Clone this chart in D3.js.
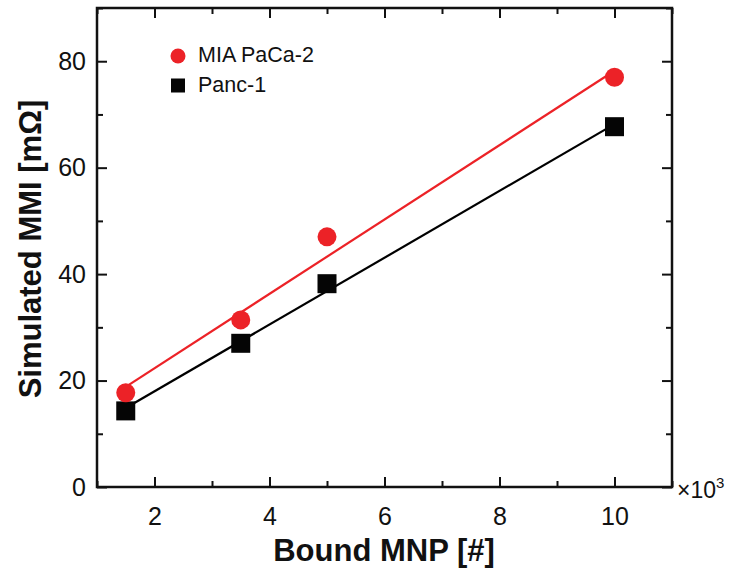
<!DOCTYPE html>
<html>
<head>
<meta charset="utf-8">
<script src="https://cdn.jsdelivr.net/npm/d3@7"></script>
<style>
  body { margin: 0; background: #fff; }
  svg { font-family: "Liberation Sans", Arial, sans-serif; }
</style>
</head>
<body>
<svg id="chart" width="731" height="571"></svg>
<script>
// bound MNP, in thousands
var boundMnp = [1.5, 3.5, 5, 10];
var miaPaca = [17.7, 31.4, 47.0, 77.0];
var panc1 = [14.3, 27.0, 38.2, 67.7];
var seriesNames = ["MIA PaCa-2", "Panc-1"];
var xTicks = [2, 4, 6, 8, 10];
var yTicks = [0, 20, 40, 60, 80];

var svg = d3.select("#chart");
var padding = {top: 8, right: 59, bottom: 84, left: 97};
var width = +svg.attr("width");
var height = +svg.attr("height");

var x = d3.scaleLinear().domain([1, 11]).range([padding.left, width - padding.right]);
var y = d3.scaleLinear().domain([0, 90]).range([height - padding.bottom, padding.top]);

var minorX = d3.range(1, 12, 2);
var minorY = d3.range(10, 91, 20);

function styleAxis(g){
    g.select(".domain").remove();
    g.selectAll("line").attr("stroke", "#111").attr("stroke-width", 2);
    g.selectAll("text").attr("fill", "#111").style("font-size", "25px");
}

// bottom
svg.append("g")
    .attr("transform", "translate(0," + y(0) + ")")
    .call(d3.axisBottom(x).tickValues(xTicks).tickSizeInner(-10).tickSizeOuter(0).tickPadding(20).tickFormat(d3.format("d")))
    .call(styleAxis);
svg.append("g")
    .attr("transform", "translate(0," + y(0) + ")")
    .call(d3.axisBottom(x).tickValues(minorX).tickSize(-6).tickFormat(""))
    .call(styleAxis);
// top
svg.append("g")
    .attr("transform", "translate(0," + y(90) + ")")
    .call(d3.axisTop(x).tickValues(xTicks).tickSize(-10).tickFormat(""))
    .call(styleAxis);
svg.append("g")
    .attr("transform", "translate(0," + y(90) + ")")
    .call(d3.axisTop(x).tickValues(minorX).tickSize(-6).tickFormat(""))
    .call(styleAxis);
// left
svg.append("g")
    .attr("transform", "translate(" + x(1) + ",0)")
    .call(d3.axisLeft(y).tickValues(yTicks).tickSizeInner(-10).tickSizeOuter(0).tickPadding(11).tickFormat(d3.format("d")))
    .call(styleAxis);
svg.append("g")
    .attr("transform", "translate(" + x(1) + ",0)")
    .call(d3.axisLeft(y).tickValues(minorY).tickSize(-6).tickFormat(""))
    .call(styleAxis);
// right
svg.append("g")
    .attr("transform", "translate(" + x(11) + ",0)")
    .call(d3.axisRight(y).tickValues(yTicks).tickSize(-10).tickFormat(""))
    .call(styleAxis);
svg.append("g")
    .attr("transform", "translate(" + x(11) + ",0)")
    .call(d3.axisRight(y).tickValues(minorY).tickSize(-6).tickFormat(""))
    .call(styleAxis);

// frame
svg.append("rect")
    .attr("x", x(1))
    .attr("y", y(90))
    .attr("width", x(11) - x(1))
    .attr("height", y(0) - y(90))
    .attr("fill", "none")
    .attr("stroke", "#111")
    .attr("stroke-width", 2.5);

// least-squares fit lines
function fit(xs, ys){
    var mx = d3.mean(xs), my = d3.mean(ys);
    var sxy = d3.sum(xs, (d, i) => (d - mx) * (ys[i] - my));
    var sxx = d3.sum(xs, d => (d - mx) * (d - mx));
    var b = sxy / sxx;
    var a = my - b * mx;
    var x0 = d3.min(xs), x1 = d3.max(xs);
    return [[x0, a + b * x0], [x1, a + b * x1]];
}

var line = d3.line().x(d => x(d[0])).y(d => y(d[1]));

svg.append("path")
    .attr("d", line(fit(boundMnp, panc1)))
    .attr("stroke", "#000")
    .attr("stroke-width", 2.2)
    .attr("fill", "none");
svg.append("path")
    .attr("d", line(fit(boundMnp, miaPaca)))
    .attr("stroke", "#ec2227")
    .attr("stroke-width", 2.2)
    .attr("fill", "none");

// markers
var sq = 19;
svg.selectAll(".panc")
    .data(boundMnp)
    .enter().append("rect")
        .attr("x", d => x(d) - sq / 2)
        .attr("y", (d, i) => y(panc1[i]) - sq / 2)
        .attr("width", sq)
        .attr("height", sq)
        .attr("fill", "#050505");
svg.selectAll(".mia")
    .data(boundMnp)
    .enter().append("circle")
        .attr("cx", d => x(d))
        .attr("cy", (d, i) => y(miaPaca[i]))
        .attr("r", 9.5)
        .attr("fill", "#ec2227");

// legend
var legend = svg.append("g").attr("transform", "translate(178,56)");
legend.append("circle").attr("cx", 0).attr("cy", 0).attr("r", 7.5).attr("fill", "#ec2227");
legend.append("rect").attr("x", -7).attr("y", 22.5).attr("width", 14).attr("height", 14).attr("fill", "#050505");
legend.selectAll("text")
    .data(seriesNames)
    .enter().append("text")
        .attr("x", 20)
        .attr("y", (d, i) => 6 + i * 30)
        .attr("fill", "#111")
        .style("font-size", "21.5px")
        .text(d => d);

// axis titles
svg.append("text")
    .attr("x", 384)
    .attr("y", 561)
    .attr("text-anchor", "middle")
    .attr("font-weight", "bold")
    .attr("fill", "#111")
    .style("font-size", "31px")
    .text("Bound MNP [#]");

svg.append("text")
    .attr("transform", "translate(41,249) rotate(-90)")
    .attr("text-anchor", "middle")
    .attr("font-weight", "bold")
    .attr("fill", "#111")
    .style("font-size", "31px")
    .text("Simulated MMI [mΩ]");

// multiplier
var mult = svg.append("text")
    .attr("x", 677)
    .attr("y", 498)
    .attr("fill", "#111")
    .style("font-size", "23px");
mult.append("tspan").text("×10");
mult.append("tspan").attr("dy", -10).style("font-size", "15px").text("3");
</script>
</body>
</html>
